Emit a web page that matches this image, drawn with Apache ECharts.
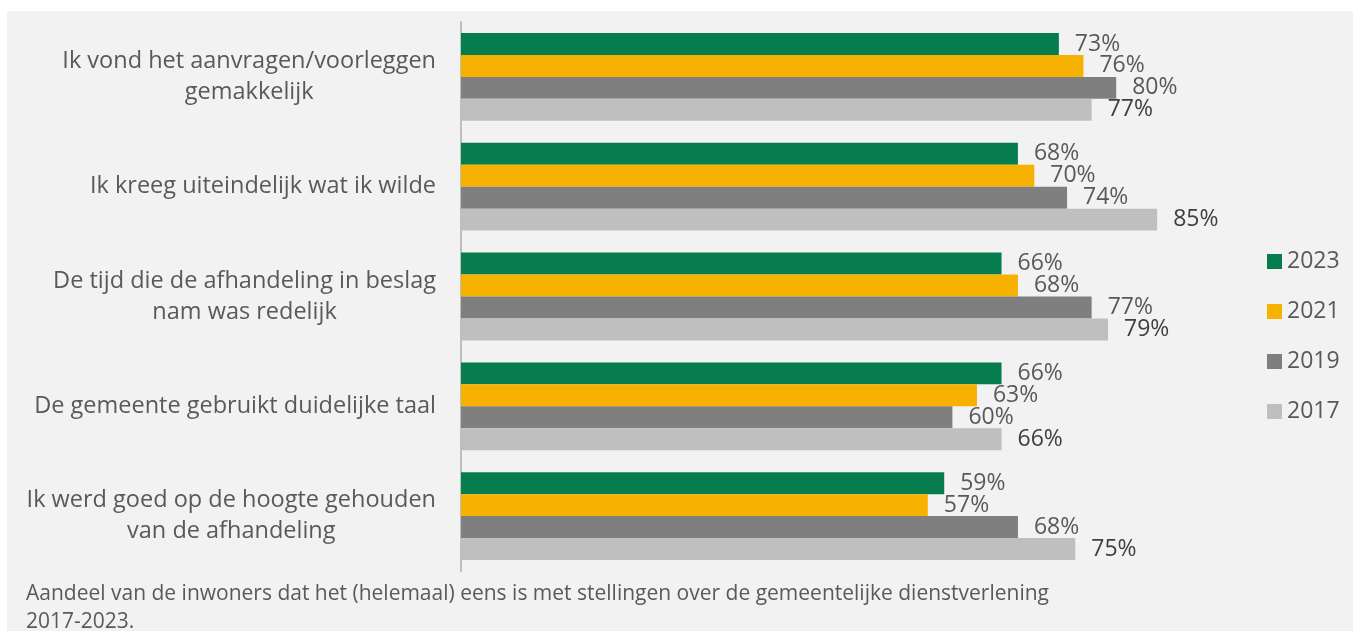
<!DOCTYPE html>
<html>
<head>
<meta charset="utf-8">
<script src="https://cdn.jsdelivr.net/npm/echarts@6/dist/echarts.min.js"></script>
<style>
  html, body { margin: 0; padding: 0; background: #ffffff; }
  #bg { position: absolute; left: 7px; top: 11px; right: 0; bottom: 0; background: #f2f2f2; }
  #chart { position: absolute; left: 0; top: 0; width: 1353px; height: 631px; }
</style>
</head>
<body>
<div id="bg"></div>
<div id="chart"></div>
<script>
// stellingen
const categories = [
    'Ik vond het aanvragen/voorleggen\ngemakkelijk',
    'Ik kreeg uiteindelijk wat ik wilde',
    'De tijd die de afhandeling in beslag\nnam was redelijk',
    'De gemeente gebruikt duidelijke taal',
    'Ik werd goed op de hoogte gehouden\nvan de afhandeling'
];
const years = ['2023', '2021', '2019', '2017'];
const values2023 = [73, 68, 66, 66, 59];
const values2021 = [76, 70, 68, 63, 57];
const values2019 = [80, 74, 77, 60, 68];
const values2017 = [77, 85, 79, 66, 75];
const caption = 'Aandeel van de inwoners dat het (helemaal) eens is met stellingen over de gemeentelijke dienstverlening\n2017-2023.';

const colors = ['#077d4e', '#f7b100', '#7f7f7f', '#bfbfbf'];
const labelColors = ['#595959', '#595959', '#595959', '#404040'];
const allValues = [values2023, values2021, values2019, values2017];
const FONT = '"Open Sans", sans-serif';

const chart = echarts.init(document.getElementById('chart'));

const series = years.map((y, i) => ({
    name: y,
    type: 'bar',
    data: allValues[i],
    barGap: '0%',
    barCategoryGap: '20%',
    itemStyle: { color: colors[i] },
    label: {
        show: true,
        position: 'right',
        distance: 16,
        formatter: '{c}%',
        color: labelColors[i],
        fontFamily: FONT,
        fontSize: 23
    },
    emphasis: { disabled: true }
}));

chart.setOption({
    backgroundColor: 'transparent',
    animation: false,
    title: {
        text: caption,
        left: 21,
        top: 575,
        textStyle: { color: '#595959', fontFamily: FONT, fontSize: 21, fontWeight: 'normal', lineHeight: 28 }
    },
    legend: {
        orient: 'vertical',
        left: 1262,
        top: 245,
        itemGap: 27,
        itemWidth: 15,
        itemHeight: 15,
        icon: 'rect',
        textStyle: { color: '#595959', fontFamily: FONT, fontSize: 23 },
        data: years
    },
    grid: { left: 461, right: 73, top: 22, bottom: 60, containLabel: false },
    xAxis: {
        type: 'value',
        min: 0,
        max: 100,
        show: false
    },
    yAxis: {
        type: 'category',
        inverse: true,
        data: categories,
        axisLine: { show: true, lineStyle: { color: '#bfbfbf', width: 2 } },
        axisTick: { show: false },
        axisLabel: {
            margin: 25,
            color: '#595959',
            fontFamily: FONT,
            fontSize: 23.5,
            lineHeight: 31,
            formatter: v => v.split('\n').map(s => '{c|' + s + '}').join('\n'),
            rich: { c: { align: 'center', color: '#595959', fontFamily: FONT, fontSize: 23.5, lineHeight: 31 } }
        }
    },
    series: series
});
</script>
</body>
</html>
